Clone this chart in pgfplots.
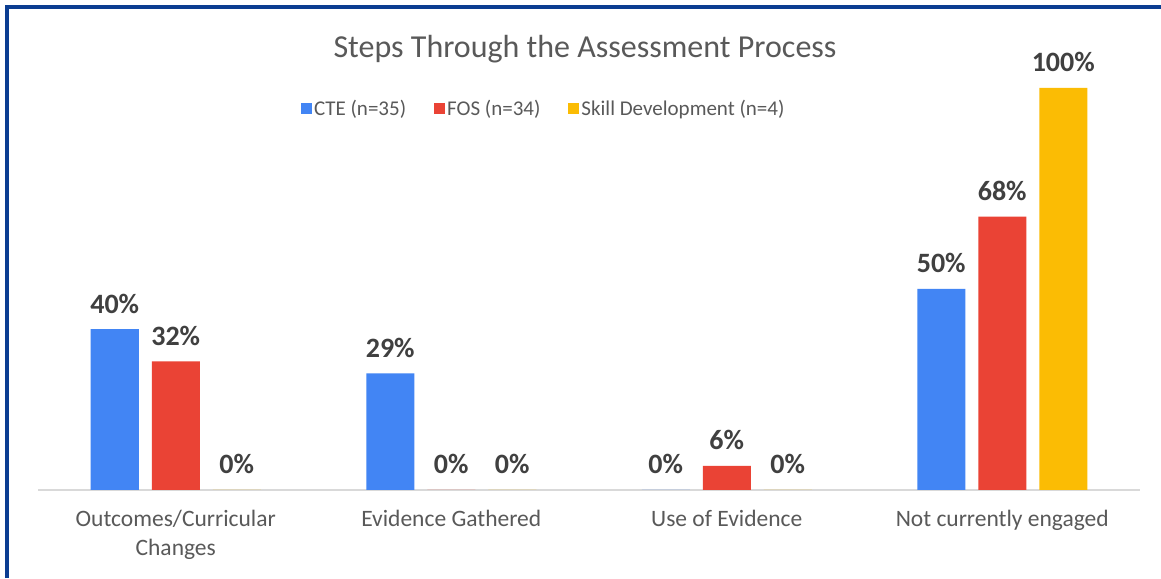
\documentclass[border=0pt]{standalone}
\usepackage{fontspec}
\setmainfont{Carlito}
\usepackage{pgfplots}
\pgfplotsset{compat=1.18}
\definecolor{cblue}{HTML}{4285F4}
\definecolor{cred}{HTML}{EA4335}
\definecolor{cyellow}{HTML}{FBBC04}
\definecolor{txt}{HTML}{595959}
\definecolor{lbl}{HTML}{404040}
\definecolor{frame}{HTML}{0B3D91}
\definecolor{base}{HTML}{D9D9D9}
\begin{document}
\begin{tikzpicture}
\useasboundingbox (0,0) rectangle (1161pt,578pt);
\fill[white] (0,0) rectangle (1161pt,578pt);
\begin{axis}[
  at={(38pt,88pt)}, anchor=south west,
  scale only axis, width=1102pt, height=402pt,
  ymin=0, ymax=100, xmin=-0.5, xmax=3.5,
  ybar=13pt, bar width=48pt,
  axis y line=none,
  axis x line*=bottom,
  x axis line style={draw=base, line width=1.5pt, -},
  xtick={0,1,2,3},
  xticklabels={{Outcomes/Curricular\\Changes},{Evidence Gathered},{Use of Evidence},{Not currently engaged}},
  xticklabel style={align=center, font=\fontsize{23.5}{29}\selectfont, text=txt, yshift=-17pt},
  major tick length=0pt,
  clip=false,
  /pgf/number format/assume math mode=true,
  nodes near coords={\pgfmathprintnumber{\pgfplotspointmeta}\%},
  nodes near coords style={font=\fontsize{28}{32}\bfseries\selectfont, text=lbl, anchor=base, yshift=16pt},
  legend columns=3,
  legend style={at={(0.459,0.95)}, anchor=center, draw=none, fill=none,
    font=\fontsize{21}{25}\selectfont, text=txt,
    /tikz/every even column/.append style={column sep=26pt}},
  legend image code/.code={\fill[#1] (0pt,-5.5pt) rectangle (11pt,5.5pt);},
]
\addplot[fill=cblue, draw=none] coordinates {(0,40) (1,29) (2,0) (3,50)};
\addplot[fill=cred, draw=none] coordinates {(0,32) (1,0) (2,6) (3,68)};
\addplot[fill=cyellow, draw=none] coordinates {(0,0) (1,0) (2,0) (3,100)};
\legend{CTE (n=35),FOS (n=34),Skill Development (n=4)}
\end{axis}
\node[anchor=base, font=\fontsize{32}{38}\selectfont, text=txt] at (585pt,520pt) {Steps Through the Assessment Process};
\draw[frame, line width=3.5pt] (7pt,0) -- (7pt,571pt) -- (1161pt,571pt);
\end{tikzpicture}
\end{document}
